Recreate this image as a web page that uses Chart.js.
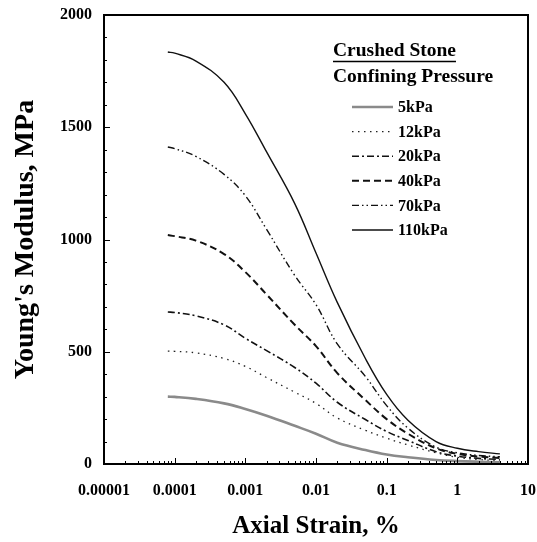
<!DOCTYPE html>
<html>
<head>
<meta charset="utf-8">
<style>
  html, body { margin: 0; padding: 0; background: #fff; }
  #wrap { width: 537px; height: 542px; }
</style>
<script src="https://cdn.jsdelivr.net/npm/chart.js@4.4.0/dist/chart.umd.min.js"></script>
</head>
<body>
<div id="wrap"><canvas id="chart" width="537" height="542"></canvas></div>
<script>
// Axial strain (%) sampled along the curves
const strain = [0.00008, 0.0001, 0.0002, 0.0005, 0.001, 0.002, 0.005, 0.01, 0.02, 0.05, 0.1, 0.2, 0.5, 1, 2, 4];

// Young's modulus (MPa) for each confining pressure
const mod5 = [300, 299, 290, 270, 245, 215, 170, 135, 95, 62, 42, 30, 18, 13, 10, 8];
const mod12 = [503, 502, 495, 470, 435, 385, 320, 270, 205, 150, 115, 85, 50, 30, 20, 15];
const mod20 = [677, 675, 660, 620, 560, 505, 430, 360, 275, 198, 145, 105, 55, 35, 25, 20];
const mod40 = [1020, 1015, 995, 935, 855, 755, 620, 525, 405, 285, 200, 135, 70, 45, 33, 27];
const mod70 = [1412, 1405, 1370, 1290, 1195, 1045, 840, 710, 535, 390, 260, 160, 75, 50, 38, 32];
const mod110 = [1835, 1830, 1795, 1700, 1560, 1390, 1160, 940, 720, 470, 310, 195, 100, 70, 55, 45];

const seriesLabels = ['5kPa', '12kPa', '20kPa', '40kPa', '70kPa', '110kPa'];

const xTickValues = [0.00001, 0.0001, 0.001, 0.01, 0.1, 1, 10];
const xTickLabels = ['0.00001', '0.0001', '0.001', '0.01', '0.1', '1', '10'];
const yTickValues = [0, 500, 1000, 1500, 2000];
const yTickLabels = ['0', '500', '1000', '1500', '2000'];

const serif = "'Liberation Serif', 'Times New Roman', serif";

const styles = [
  { color: '#8a8a8a', width: 2.6, dash: [] },
  { color: '#222', width: 1.3, dash: [1.5, 4.5] },
  { color: '#111', width: 1.6, dash: [7, 3, 2, 3] },
  { color: '#111', width: 2, dash: [7, 4] },
  { color: '#111', width: 1.4, dash: [7, 3, 1.5, 3, 1.5, 3] },
  { color: '#111', width: 1.4, dash: [] }
];

const allSeries = [mod5, mod12, mod20, mod40, mod70, mod110];

const datasets = allSeries.map((vals, i) => ({
  label: seriesLabels[i],
  data: strain.map((x, j) => ({ x: x, y: vals[j] })),
  borderColor: styles[i].color,
  borderWidth: styles[i].width,
  borderDash: styles[i].dash,
  pointRadius: 0,
  fill: false,
  tension: 0.4
}));

// frame around the plot plus inward ticks
const framePlugin = {
  id: 'frame',
  afterDatasetsDraw(chart) {
    const { ctx, chartArea: a, scales } = chart;
    ctx.save();
    ctx.strokeStyle = '#000';
    ctx.lineWidth = 1;
    ctx.beginPath();
    // x ticks, major and minor
    for (let d = -5; d <= 1; d++) {
      for (let m = 1; m <= 9; m++) {
        const v = m * Math.pow(10, d);
        if (v > 10) break;
        const px = Math.round(scales.x.getPixelForValue(v)) + 0.5;
        const len = m === 1 ? 6 : 3;
        ctx.moveTo(px, a.bottom);
        ctx.lineTo(px, a.bottom - len);
      }
    }
    // y ticks every 100
    for (let v = 100; v < 2000; v += 100) {
      const py = Math.round(scales.y.getPixelForValue(v)) + 0.5;
      const len = v % 500 === 0 ? 6 : 3;
      ctx.moveTo(a.left, py);
      ctx.lineTo(a.left + len, py);
    }
    ctx.stroke();
    ctx.lineWidth = 2;
    ctx.strokeRect(a.left, a.top, a.right - a.left, a.bottom - a.top);
    ctx.restore();
  }
};

// legend block in the upper right of the plot
const legendPlugin = {
  id: 'innerLegend',
  afterDraw(chart) {
    const ctx = chart.ctx;
    ctx.save();
    ctx.fillStyle = '#000';
    ctx.textBaseline = 'middle';
    ctx.textAlign = 'left';
    ctx.font = "bold 19.5px " + serif;
    ctx.fillText('Crushed Stone', 333, 51);
    const w = ctx.measureText('Crushed Stone').width;
    ctx.lineWidth = 1.6;
    ctx.strokeStyle = '#000';
    ctx.beginPath();
    ctx.moveTo(333, 61.5);
    ctx.lineTo(333 + w, 61.5);
    ctx.stroke();
    ctx.fillText('Confining Pressure', 333, 77);

    ctx.font = "bold 16px " + serif;
    chart.data.datasets.forEach((ds, i) => {
      const y = 107 + i * 24.6;
      ctx.beginPath();
      ctx.strokeStyle = ds.borderColor;
      ctx.lineWidth = ds.borderWidth;
      ctx.setLineDash(ds.borderDash);
      ctx.moveTo(352, y);
      ctx.lineTo(393, y);
      ctx.stroke();
      ctx.setLineDash([]);
      ctx.fillText(ds.label, 398, y + 1);
    });
    ctx.restore();
  }
};

new Chart(document.getElementById('chart'), {
  type: 'line',
  data: { datasets: datasets },
  options: {
    responsive: false,
    animation: false,
    devicePixelRatio: 1,
    layout: { padding: { left: 0, right: 9, top: 15, bottom: 0 } },
    plugins: {
      legend: { display: false },
      tooltip: { enabled: false }
    },
    scales: {
      x: {
        type: 'logarithmic',
        position: 'bottom',
        min: 0.00001,
        max: 10,
        grid: { display: false, drawTicks: false },
        border: { display: false },
        afterBuildTicks: (scale) => {
          scale.ticks = xTickValues.map(v => ({ value: v }));
        },
        afterFit: (scale) => {
          scale.height = 78;
          scale.paddingLeft = 0;
          scale.paddingRight = 0;
        },
        ticks: {
          autoSkip: false,
          maxRotation: 0,
          padding: 17,
          color: '#000',
          font: { family: serif, size: 16, weight: 'bold' },
          callback: (v) => {
            const i = xTickValues.findIndex(t => Math.abs(Math.log10(t) - Math.log10(v)) < 1e-6);
            return i >= 0 ? xTickLabels[i] : '';
          }
        },
        title: {
          display: true,
          text: 'Axial Strain, %',
          color: '#000',
          font: { family: serif, size: 25, weight: 'bold' },
          padding: { top: 0, bottom: 0 }
        }
      },
      y: {
        type: 'linear',
        min: 0,
        max: 2000,
        grid: { display: false, drawTicks: false },
        border: { display: false },
        afterBuildTicks: (scale) => {
          scale.ticks = yTickValues.map(v => ({ value: v }));
        },
        afterFit: (scale) => {
          scale.width = 104;
          scale.paddingTop = 0;
          scale.paddingBottom = 0;
        },
        ticks: {
          padding: 12,
          color: '#000',
          font: { family: serif, size: 16, weight: 'bold' },
          callback: (v) => {
            const i = yTickValues.indexOf(v);
            return i >= 0 ? yTickLabels[i] : '';
          }
        },
        title: {
          display: true,
          text: "Young's Modulus, MPa",
          color: '#000',
          font: { family: serif, size: 28, weight: 'bold' },
          padding: { top: 9, bottom: 9 }
        }
      }
    }
  },
  plugins: [framePlugin, legendPlugin]
});
</script>
</body>
</html>
